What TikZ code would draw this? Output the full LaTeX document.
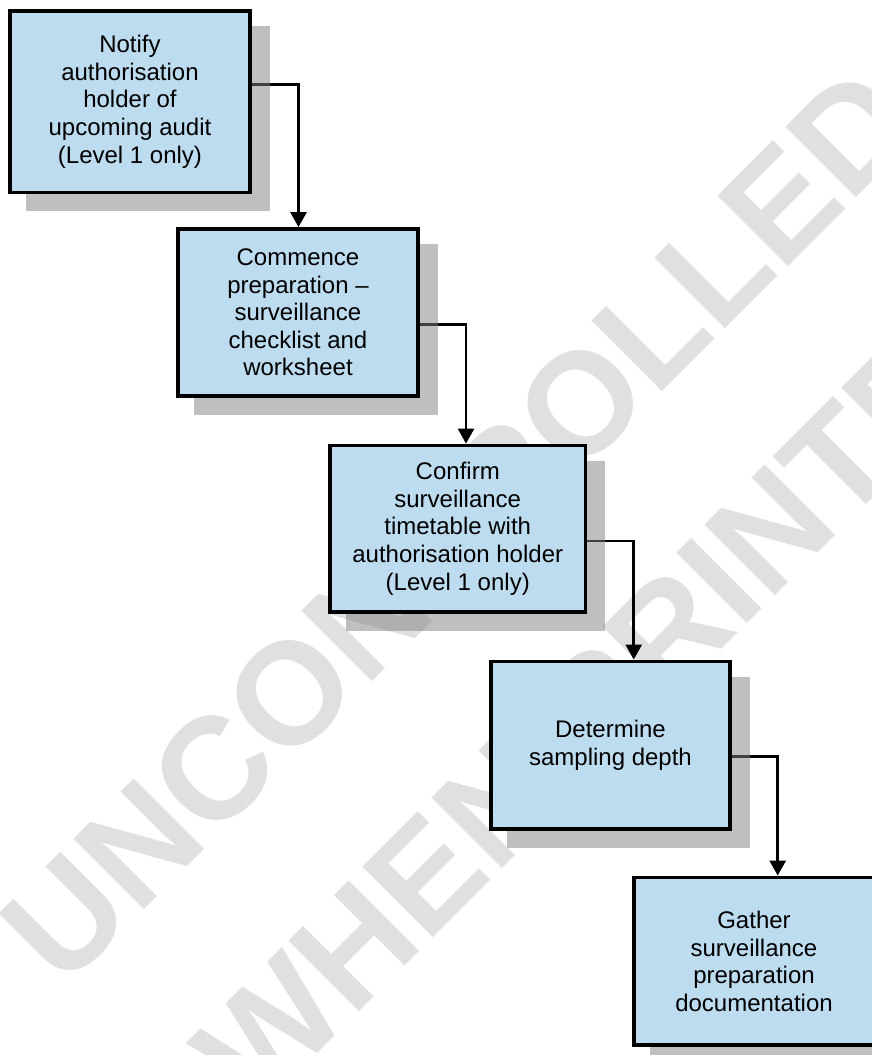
\documentclass[tikz,border=0pt]{standalone}
\usepackage{fontspec}
\setmainfont{Liberation Sans}
\usetikzlibrary{arrows.meta}
\pgfdeclarelayer{wmlayer}
\pgfdeclarelayer{connlayer}
\pgfdeclarelayer{shadowlayer}
\pgfsetlayers{wmlayer,connlayer,shadowlayer,main}
\definecolor{boxblue}{RGB}{189,220,240}
\definecolor{wmgray}{RGB}{224,224,224}
\definecolor{shadowgray}{RGB}{128,128,128}
\tikzset{
  stepbox/.style={draw=black, line width=3.8pt, fill=boxblue, rectangle,
    align=center, inner sep=0pt, font=\fontsize{24pt}{27.6pt}\selectfont},
  conn/.style={draw=black, line width=2.7pt, -{Triangle[width=16pt,length=15pt]}},
  boxshadow/.style={fill=shadowgray, fill opacity=0.5},
  watermark/.style={text=wmgray, rotate=45, align=center,
    font=\fontsize{145pt}{224pt}\selectfont\bfseries}
}
\begin{document}
\begin{tikzpicture}[x=1pt,y=-1pt]
\useasboundingbox (0,0) rectangle (872,1055);

\node[stepbox, minimum width=240pt, minimum height=181.5pt] (b1) at (130,101.75)
  {Notify\\authorisation\\holder of\\upcoming audit\\(Level 1 only)};
\node[stepbox, minimum width=240pt, minimum height=167pt] (b2) at (298,312.5)
  {Commence\\preparation --\\surveillance\\checklist and\\worksheet};
\node[stepbox, minimum width=255.5pt, minimum height=166.5pt] (b3) at (457.75,528.75)
  {Confirm\\surveillance\\timetable with\\authorisation holder\\(Level 1 only)};
\node[stepbox, minimum width=239pt, minimum height=167.5pt] (b4) at (610.5,745.25)
  {Determine\\sampling depth};
\node[stepbox, minimum width=244pt, minimum height=167.5pt] (b5) at (756,961.25)
  {\hspace*{-4pt}Gather\\\hspace*{-4pt}surveillance\\\hspace*{-4pt}preparation\\\hspace*{-4pt}documentation};

\begin{pgfonlayer}{shadowlayer}
  \foreach \b in {b1,b2,b3,b4,b5}
    \fill[boxshadow] ([shift={(18,17)}]\b.south west) rectangle ([shift={(18,17)}]\b.north east);
\end{pgfonlayer}

\begin{pgfonlayer}{connlayer}
  \draw[conn] ([yshift=17.25pt]b1.east) -| ([xshift=0.5pt]b2.north);
  \draw[conn] ([yshift=-12.25pt]b2.east) -| ([xshift=8.25pt]b3.north);
  \draw[conn] ([yshift=-12.25pt]b3.east) -| ([xshift=23.2pt]b4.north);
  \draw[conn] ([yshift=-11.5pt]b4.east) -| ([xshift=21.7pt]b5.north);
\end{pgfonlayer}

\begin{pgfonlayer}{wmlayer}
  \node[watermark] (wm) at (537,604) {UNCONTROLLED\\WHEN PRINTED};
\end{pgfonlayer}
\end{tikzpicture}
\end{document}
